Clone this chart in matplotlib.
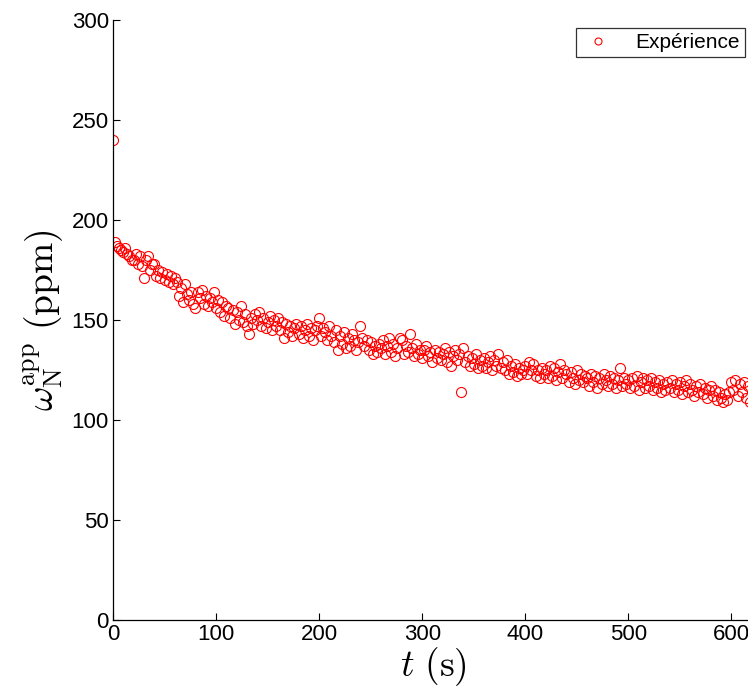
import matplotlib
matplotlib.use("Agg")
import matplotlib.pyplot as plt
import numpy as np

plt.rcParams['font.family'] = ['Liberation Sans', 'DejaVu Sans']
plt.rcParams['mathtext.fontset'] = 'cm'

# time step of the acquisition (s)
t_step = 2.0

omega_0_100 = [240, 189, 187, 186, 185, 184, 186, 183, 182, 180,
               180, 183, 178, 182, 177, 171, 180, 182, 175, 178,
               178, 172, 175, 171, 174, 170, 173, 169, 172, 168,
               171, 169, 162, 166, 159, 168, 163, 160, 164, 158,
               156, 164, 161, 165, 158, 162, 157, 161, 159, 164]
omega_100_200 = [156, 160, 154, 159, 152, 157, 156, 151, 155, 148,
                 154, 150, 157, 149, 153, 147, 143, 151, 148, 153,
                 150, 154, 147, 151, 146, 149, 152, 145, 150, 147,
                 151, 145, 149, 141, 148, 144, 147, 142, 146, 148,
                 143, 147, 141, 145, 148, 142, 146, 140, 145, 147]
omega_200_300 = [151, 142, 146, 144, 140, 147, 142, 139, 145, 135,
                 142, 138, 144, 136, 141, 137, 143, 140, 135, 139,
                 147, 141, 137, 140, 135, 139, 133, 137, 134, 138,
                 136, 140, 133, 137, 141, 134, 138, 132, 136, 141,
                 140, 133, 137, 134, 143, 136, 132, 138, 133, 135]
omega_300_400 = [131, 135, 137, 132, 134, 129, 135, 131, 134, 130,
                 133, 136, 129, 134, 127, 132, 135, 130, 133, 114,
                 136, 129, 132, 127, 131, 128, 133, 126, 130, 127,
                 131, 126, 129, 132, 125, 130, 127, 133, 126, 129,
                 125, 130, 123, 127, 124, 128, 122, 126, 123, 125]
omega_400_500 = [127, 123, 129, 125, 128, 122, 125, 121, 126, 123,
                 125, 121, 127, 122, 126, 120, 124, 128, 121, 125,
                 123, 119, 124, 121, 118, 125, 120, 123, 119, 122,
                 121, 117, 123, 119, 122, 116, 121, 118, 123, 120,
                 117, 122, 118, 121, 116, 120, 126, 117, 121, 118]
omega_500_620 = [120, 116, 121, 117, 122, 115, 119, 121, 116, 120,
                 117, 121, 115, 119, 116, 120, 114, 118, 115, 119,
                 116, 120, 114, 118, 115, 119, 113, 117, 120, 114,
                 118, 115, 112, 117, 114, 118, 113, 116, 111, 115,
                 117, 112, 115, 110, 114, 111, 109, 113, 110, 114,
                 119, 115, 120, 112, 118, 114, 119, 111, 117, 109]

omega = np.array(omega_0_100 + omega_100_200 + omega_200_300 +
                 omega_300_400 + omega_400_500 + omega_500_620, dtype=float)
t = np.arange(len(omega)) * t_step

x_ticks = [0, 100, 200, 300, 400, 500, 600]
y_ticks = [0, 50, 100, 150, 200, 250, 300]

W, H = 748, 696
fig = plt.figure(figsize=(W / 100, H / 100), dpi=100)
left, right, bottom, top = 113, 753, 620, 20
ax = fig.add_axes([left / W, 1 - bottom / H, (right - left) / W, (bottom - top) / H])

ax.plot(t, omega, linestyle='none', marker='o', markersize=7.2,
        markerfacecolor='none', markeredgecolor='red', markeredgewidth=0.8,
        label='Expérience', clip_on=True)

ax.set_xlim(0, 621)
ax.set_ylim(0, 300)
ax.set_xticks(x_ticks)
ax.set_yticks(y_ticks)
ax.tick_params(direction='in', length=5, width=0.8, labelsize=16, pad=3)
ax.spines['top'].set_visible(False)
ax.spines['right'].set_visible(False)
for s in ('left', 'bottom'):
    ax.spines[s].set_linewidth(0.9)

ax.set_xlabel(r'$t\ (\mathrm{s})$', fontsize=27, labelpad=0)
ax.set_ylabel(r'$\omega_{\mathrm{N}}^{\mathrm{app}}\ (\mathrm{ppm})$', fontsize=27, labelpad=4)

leg = ax.legend(loc='upper right', bbox_to_anchor=(745 / W, 1 - 28 / H),
                bbox_transform=fig.transFigure, borderaxespad=0,
                fontsize=15, frameon=True, fancybox=False, markerscale=0.7,
                handlelength=1.6, handletextpad=1.0, borderpad=0.25)
leg.get_frame().set_edgecolor('black')
leg.get_frame().set_linewidth(0.9)

fig.savefig('out.png', dpi=100)
